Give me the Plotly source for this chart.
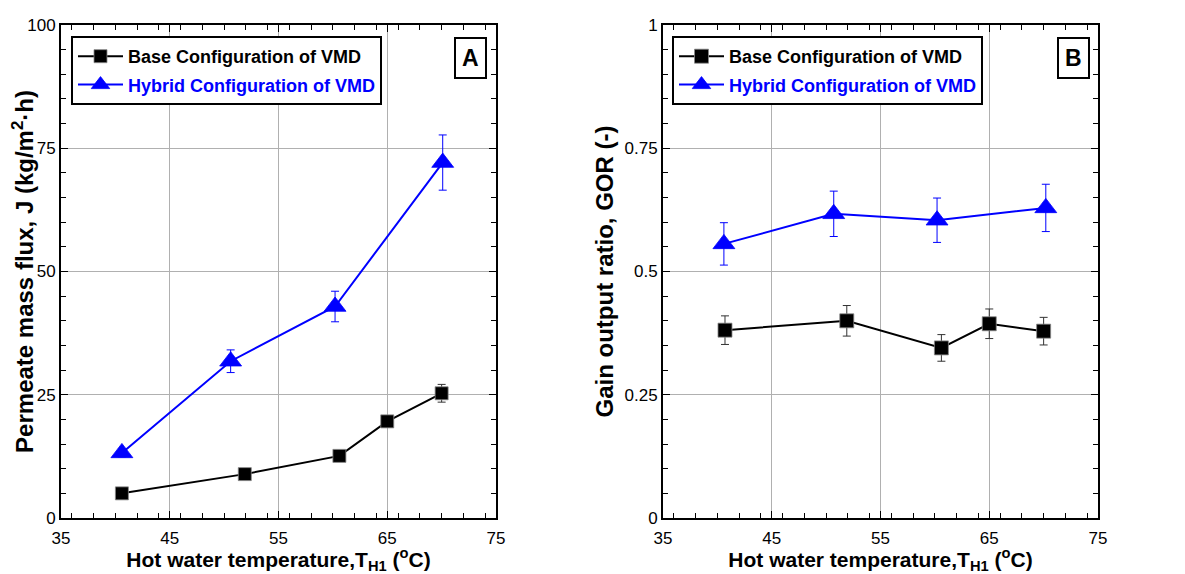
import plotly.graph_objects as go
from plotly.subplots import make_subplots

# Panel A: permeate flux
a_base_t = [40.6, 51.9, 60.6, 65.0, 70.0]
a_base_j = [5.0, 8.9, 12.6, 19.6, 25.3]
a_base_err = [0.5, 0.6, 0.8, 1.0, 1.8]
a_hyb_t = [40.6, 50.6, 60.2, 70.1]
a_hyb_j = [13.2, 31.8, 42.9, 72.1]
a_hyb_err = [0.8, 2.3, 3.1, 5.6]

# Panel B: GOR
b_base_t = [40.7, 51.9, 60.6, 65.0, 70.0]
b_base_gor = [0.381, 0.400, 0.345, 0.394, 0.379]
b_base_err = [0.029, 0.031, 0.027, 0.030, 0.028]
b_hyb_t = [40.6, 50.7, 60.2, 70.2]
b_hyb_gor = [0.556, 0.617, 0.604, 0.629]
b_hyb_err = [0.043, 0.046, 0.045, 0.048]

BASE_NAME = "<b>Base Configuration of VMD</b>"
HYB_NAME = "<b><span style='color:#0000ff'>Hybrid Configuration of VMD</span></b>"
BLUE = "#0000ff"
FONT = "Arial, Liberation Sans, sans-serif"
# the page body has an 8px margin, so the figure is drawn 8px smaller and positions are shifted
OFF = 8
W, H = 1185 - OFF, 574 - OFF


def px(x):
    return (x - OFF) / W


def py(y):
    return 1 - (y - OFF) / H


fig = make_subplots(rows=1, cols=2)


def add_series(x, y, err, col, legend, group, name, color, symbol, size, err_color):
    fig.add_scatter(
        x=x, y=y, mode="lines+markers", name=name, legend=legend, legendgroup=group,
        line={"color": color, "width": 2},
        marker={"symbol": symbol, "size": size, "color": color,
                "line": {"color": "#888888" if color == "black" else color, "width": 0.8}},
        error_y={"type": "data", "array": err, "color": err_color, "thickness": 1, "width": 4},
        row=1, col=col,
    )


add_series(a_base_t, a_base_j, a_base_err, 1, "legend", "base", BASE_NAME, "black", "square", 13, "#333333")
add_series(a_hyb_t, a_hyb_j, a_hyb_err, 1, "legend", "hyb", HYB_NAME, BLUE, "triangle-up", 19, BLUE)
add_series(b_base_t, b_base_gor, b_base_err, 2, "legend2", "base", BASE_NAME, "black", "square", 14, "#333333")
add_series(b_hyb_t, b_hyb_gor, b_hyb_err, 2, "legend2", "hyb", HYB_NAME, BLUE, "triangle-up", 19, BLUE)

axis_common = dict(
    showline=True, linecolor="black", linewidth=2, mirror="allticks",
    ticks="inside", ticklen=7, tickwidth=1, tickcolor="black",
    showgrid=True, gridcolor="#b0b0b0", gridwidth=1, zeroline=False,
    automargin=False,
    tickfont={"family": FONT, "size": 17, "color": "black"},
)
x_title = "Hot water temperature,T<sub>H1</sub> (<sup>o</sup>C)"

fig.update_xaxes(range=[35, 75], dtick=10, tick0=35,
                 minor={"dtick": 2, "ticks": "inside", "ticklen": 5, "tickcolor": "black", "showgrid": False},
                 title_text=x_title, title_standoff=4, ticklabelstandoff=4,
                 title_font={"family": FONT, "size": 21, "color": "black", "weight": "bold"},
                 **axis_common)
fig.update_xaxes(domain=[px(61), px(496)], row=1, col=1)
fig.update_xaxes(domain=[px(663), px(1098)], row=1, col=2)
fig.update_yaxes(domain=[py(518), py(25)],
                 title_font={"family": FONT, "size": 24, "color": "black", "weight": "bold"},
                 **axis_common)
fig.update_yaxes(range=[0, 100], dtick=25, title_text="Permeate mass flux, J (kg/m<sup>2</sup>·h)",
                 minor={"dtick": 5, "ticks": "inside", "ticklen": 5, "tickcolor": "black", "showgrid": False},
                 title_standoff=4, row=1, col=1)
fig.update_yaxes(range=[0, 1], dtick=0.25, title_text="Gain output ratio, GOR (-)",
                 minor={"dtick": 0.05, "ticks": "inside", "ticklen": 5, "tickcolor": "black", "showgrid": False},
                 title_standoff=4, row=1, col=2)

legend_common = dict(
    bgcolor="white", bordercolor="black", borderwidth=2,
    font={"family": FONT, "size": 18, "color": "black"},
    xanchor="left", yanchor="top", itemwidth=45, tracegroupgap=2,
)
fig.update_layout(
    legend=dict(x=px(71), y=py(36), **legend_common),
    legend2=dict(x=px(672), y=py(36), **legend_common),
)

for label, xr in (("A", 487), ("B", 1090)):
    fig.add_annotation(
        text=f"<b>{label}</b>", xref="paper", yref="paper", x=px(xr), y=py(37),
        xanchor="right", yanchor="top", showarrow=False,
        font={"family": FONT, "size": 23, "color": "black"},
        bordercolor="black", borderwidth=2, borderpad=6, bgcolor="white",
    )

fig.update_layout(
    width=W, height=H, margin={"l": 0, "r": 0, "t": 0, "b": 0},
    paper_bgcolor="white", plot_bgcolor="white", showlegend=True,
    font={"family": FONT, "color": "black"},
)

fig.write_html("out.html")
